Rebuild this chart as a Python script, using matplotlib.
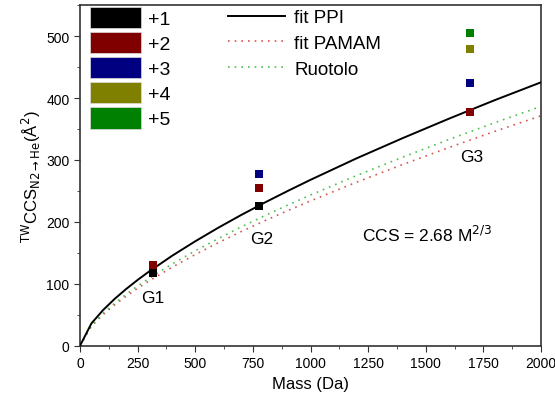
import matplotlib
matplotlib.use("Agg")
import matplotlib.pyplot as plt
from matplotlib.patches import Patch
from matplotlib.lines import Line2D
from matplotlib.ticker import MultipleLocator

plt.rcParams["font.family"] = ["Liberation Sans", "DejaVu Sans"]

# fit curves
fit_mass = [0, 50, 100, 150, 200, 250, 300, 400, 500, 600, 700, 800, 900,
            1000, 1200, 1400, 1600, 1800, 2000]
fit_ppi = [0, 36.4, 57.7, 75.7, 91.7, 106.4, 120.1, 145.5, 168.8, 190.7, 211.4,
           231.0, 249.8, 268.0, 302.7, 335.3, 366.6, 396.7, 425.4]
fit_pamam = [0, 31.8, 50.4, 66.1, 80.0, 92.9, 104.9, 127.0, 147.4, 166.5, 184.6,
             201.7, 218.1, 234.0, 264.2, 292.7, 320.1, 346.3, 371.4]
fit_ruotolo = [0, 33.0, 52.5, 68.7, 83.3, 96.6, 109.1, 132.2, 153.4, 173.2, 192.1,
               209.9, 227.0, 243.5, 274.9, 304.6, 333.0, 360.3, 386.5]

# measured points: (mass, ccs) per charge state
charge_labels = ["+1", "+2", "+3", "+4", "+5"]
charge_colors = ["#000000", "#800000", "#000080", "#808000", "#008000"]
charge_mass = [[315, 775], [315, 775, 1692], [775, 1692], [1692], [1692]]
charge_ccs = [[118, 226], [131, 255, 378], [278, 424], [479], [505]]

gen_labels = ["G1", "G2", "G3"]
gen_x = [315, 790, 1700]
gen_y = [78, 173, 305]

fig = plt.figure(figsize=(5.55, 4.02), dpi=100)
ax = fig.add_axes([0.144, 0.137, 0.831, 0.848])

ax.plot(fit_mass, fit_ppi, color="black", lw=1.4, zorder=3)
ax.plot(fit_mass, fit_pamam, color="#D9534F", lw=1.2, ls=(0, (1, 3)), zorder=2)
ax.plot(fit_mass, fit_ruotolo, color="#4CBF4C", lw=1.2, ls=(0, (1, 3)), zorder=2)

for m, c, col in zip(charge_mass, charge_ccs, charge_colors):
    ax.scatter(m, c, marker="s", s=34, color=col, zorder=4, linewidths=0)

for t, x, y in zip(gen_labels, gen_x, gen_y):
    ax.text(x, y, t, ha="center", va="center", fontsize=12.5)

ax.text(1504, 181, r"CCS = 2.68 M$^{2/3}$", ha="center", va="center", fontsize=12.5)

ax.set_xlim(0, 2000)
ax.set_ylim(0, 550)
ax.xaxis.set_major_locator(MultipleLocator(250))
ax.xaxis.set_minor_locator(MultipleLocator(125))
ax.yaxis.set_major_locator(MultipleLocator(100))
ax.yaxis.set_minor_locator(MultipleLocator(50))
ax.tick_params(which="both", direction="out", labelsize=10, color="#333333")
ax.tick_params(which="major", length=4)
ax.tick_params(which="minor", length=2.5)
for sp in ax.spines.values():
    sp.set_linewidth(1.2)
    sp.set_color("#333333")

ax.set_xlabel("Mass (Da)", fontsize=12, labelpad=4)
ax.set_ylabel(r"$^{\mathrm{TW}}$CCS$_{\mathrm{N2\rightarrow He}}$(Å$^2$)", fontsize=12, labelpad=2)

h1 = [Patch(facecolor=c, edgecolor="#DDDDDD", lw=0.5) for c in charge_colors]
leg1 = ax.legend(h1, charge_labels, loc="upper left", bbox_to_anchor=(0.018, 1.0),
                 frameon=False, fontsize=14, handlelength=2.6, handleheight=1.3,
                 labelspacing=0.2, handletextpad=0.35, borderpad=0.1, borderaxespad=0)
ax.add_artist(leg1)

h2 = [Line2D([], [], color="black", lw=1.4),
      Line2D([], [], color="#D9534F", lw=1.2, ls=(0, (1, 3))),
      Line2D([], [], color="#4CBF4C", lw=1.2, ls=(0, (1, 3)))]
ax.legend(h2, ["fit PPI", "fit PAMAM", "Ruotolo"], loc="upper left",
          bbox_to_anchor=(0.318, 0.993), frameon=False, fontsize=13.5,
          handlelength=3.0, labelspacing=0.45, handletextpad=0.5,
          borderpad=0.1, borderaxespad=0)

fig.savefig("out.png", dpi=100)
